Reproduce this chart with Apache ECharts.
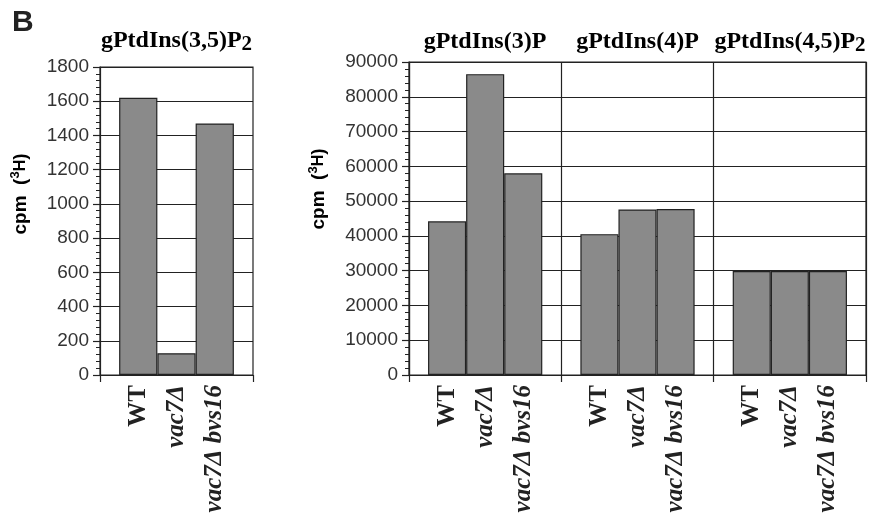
<!DOCTYPE html>
<html><head><meta charset="utf-8">
<script src="https://cdn.jsdelivr.net/npm/echarts@6/dist/echarts.min.js"></script>
<style>html,body{margin:0;padding:0;background:#fff}#c{width:882px;height:518px}</style>
</head><body><div id="c"></div>
<script>
// ---- data ----
var strains = ['WT', 'vac7Δ', 'vac7Δ bvs16'];
var ptdIns35P2 = [1620, 127, 1470];      // left panel
var ptdIns3P   = [44200, 86500, 58000];
var ptdIns4P   = [40500, 47600, 47700];
var ptdIns45P2 = [29900, 29900, 29900];
var leftTicks  = { min: 0, max: 1800, interval: 200 };
var rightTicks = { min: 0, max: 90000, interval: 10000 };

// ---- build padded category axes ----
var leftCats = [''].concat(strains, ['']);
var rightCats = [''].concat(strains, [''], strains, [''], strains, ['']);
var leftData = [null].concat(ptdIns35P2, [null]);
var rightData = [null].concat(ptdIns3P, [null], ptdIns4P, [null], ptdIns45P2, [null]);

var serif = '"Liberation Serif","Times New Roman",serif';
var sans = '"Liberation Sans",Arial,sans-serif';
var ink = '#222';

function xLabelFmt(v) {
  if (v === 'WT') return '{n|' + v + '}';
  return '{i|' + v + '}';
}
var xRich = {
  n: { fontFamily: serif, fontWeight: 'bold', fontSize: 25, color: ink },
  i: { fontFamily: serif, fontWeight: 'bold', fontStyle: 'italic', fontSize: 25, color: ink }
};

function xAxis(idx, cats, splitShow) {
  return {
    type: 'category', gridIndex: idx, data: cats, boundaryGap: false,
    axisLine: { show: true, lineStyle: { color: ink, width: 1.2 } },
    axisTick: { show: true, length: 7, interval: function (i) { return i % 4 === 0; }, lineStyle: { color: ink, width: 1.2 } },
    axisLabel: { rotate: 90, margin: 10, interval: function (i, v) { return v !== ''; }, formatter: xLabelFmt, rich: xRich },
    splitLine: { show: splitShow, interval: function (i) { return i % 4 === 0; }, lineStyle: { color: ink, width: 1.2 } }
  };
}
function yAxis(idx, t, fs) {
  return {
    type: 'value', gridIndex: idx, min: t.min, max: t.max, interval: t.interval,
    axisLine: { show: true, lineStyle: { color: ink, width: 1.2 } },
    axisTick: { show: true, length: 7, lineStyle: { color: ink, width: 1.2 } },
    minorTick: { show: true, splitNumber: 5, length: 4, lineStyle: { color: ink, width: 1 } },
    axisLabel: { margin: 11, fontFamily: sans, fontSize: fs, color: '#333', formatter: function (v) { return String(v); } },
    splitLine: { show: true, lineStyle: { color: ink, width: 1.2 } }
  };
}

var yName = {
  c: { fontFamily: sans, fontWeight: 'bold', fontSize: 19, color: ink, lineHeight: 24 },
  p: { fontFamily: sans, fontWeight: 'bold', fontSize: 19, color: ink, lineHeight: 24 },
  sup: { fontFamily: sans, fontWeight: 'bold', fontSize: 13, color: ink, lineHeight: 13, verticalAlign: 'top' },
  h: { fontFamily: sans, fontWeight: 'bold', fontSize: 16, color: ink, lineHeight: 24 }
};
var titleRich = {
  a: { fontFamily: serif, fontWeight: 'bold', fontSize: 24, color: ink, lineHeight: 28 },
  s: { fontFamily: serif, fontWeight: 'bold', fontSize: 21, color: ink, lineHeight: 18, verticalAlign: 'bottom' }
};
function titleText(x, y, t) {
  return { type: 'text', x: x, y: y, style: { text: t, rich: titleRich, align: 'center', verticalAlign: 'middle' } };
}
function yNameText(x, y) {
  return { type: 'text', x: x, y: y, rotation: Math.PI / 2,
    style: { text: '{c|cpm}{p|  (}{sup|3}{h|H}{p|)}', rich: yName, align: 'center', verticalAlign: 'middle' } };
}

var barStyle = { color: '#8a8a8a', borderColor: '#222', borderWidth: 1.2 };

var chart = echarts.init(document.getElementById('c'), null, { renderer: 'canvas' });
chart.setOption({
  animation: false,
  backgroundColor: '#fff',
  grid: [
    { left: 100, top: 67, width: 153, height: 308, show: true, borderColor: ink, borderWidth: 1.2, backgroundColor: 'transparent' },
    { left: 409, top: 62, width: 457, height: 313, show: true, borderColor: ink, borderWidth: 1.2, backgroundColor: 'transparent' }
  ],
  xAxis: [xAxis(0, leftCats, false), xAxis(1, rightCats, true)],
  yAxis: [yAxis(0, leftTicks, 19), yAxis(1, rightTicks, 19)],
  series: [
    { type: 'bar', xAxisIndex: 0, yAxisIndex: 0, data: leftData, barWidth: '100%', itemStyle: barStyle },
    { type: 'bar', xAxisIndex: 1, yAxisIndex: 1, data: rightData, barWidth: '100%', itemStyle: barStyle }
  ],
  graphic: [
    { type: 'text', x: 12, y: 8, style: { text: 'B', fontFamily: sans, fontWeight: 'bold', fontSize: 30, fill: ink } },
    titleText(176.5, 41, '{a|gPtdIns(3,5)P}{s|2}'),
    titleText(485, 42, '{a|gPtdIns(3)P}'),
    titleText(637.5, 42, '{a|gPtdIns(4)P}'),
    titleText(790, 42, '{a|gPtdIns(4,5)P}{s|2}'),
    yNameText(21, 194),
    yNameText(319, 189)
  ]
});
</script></body></html>
